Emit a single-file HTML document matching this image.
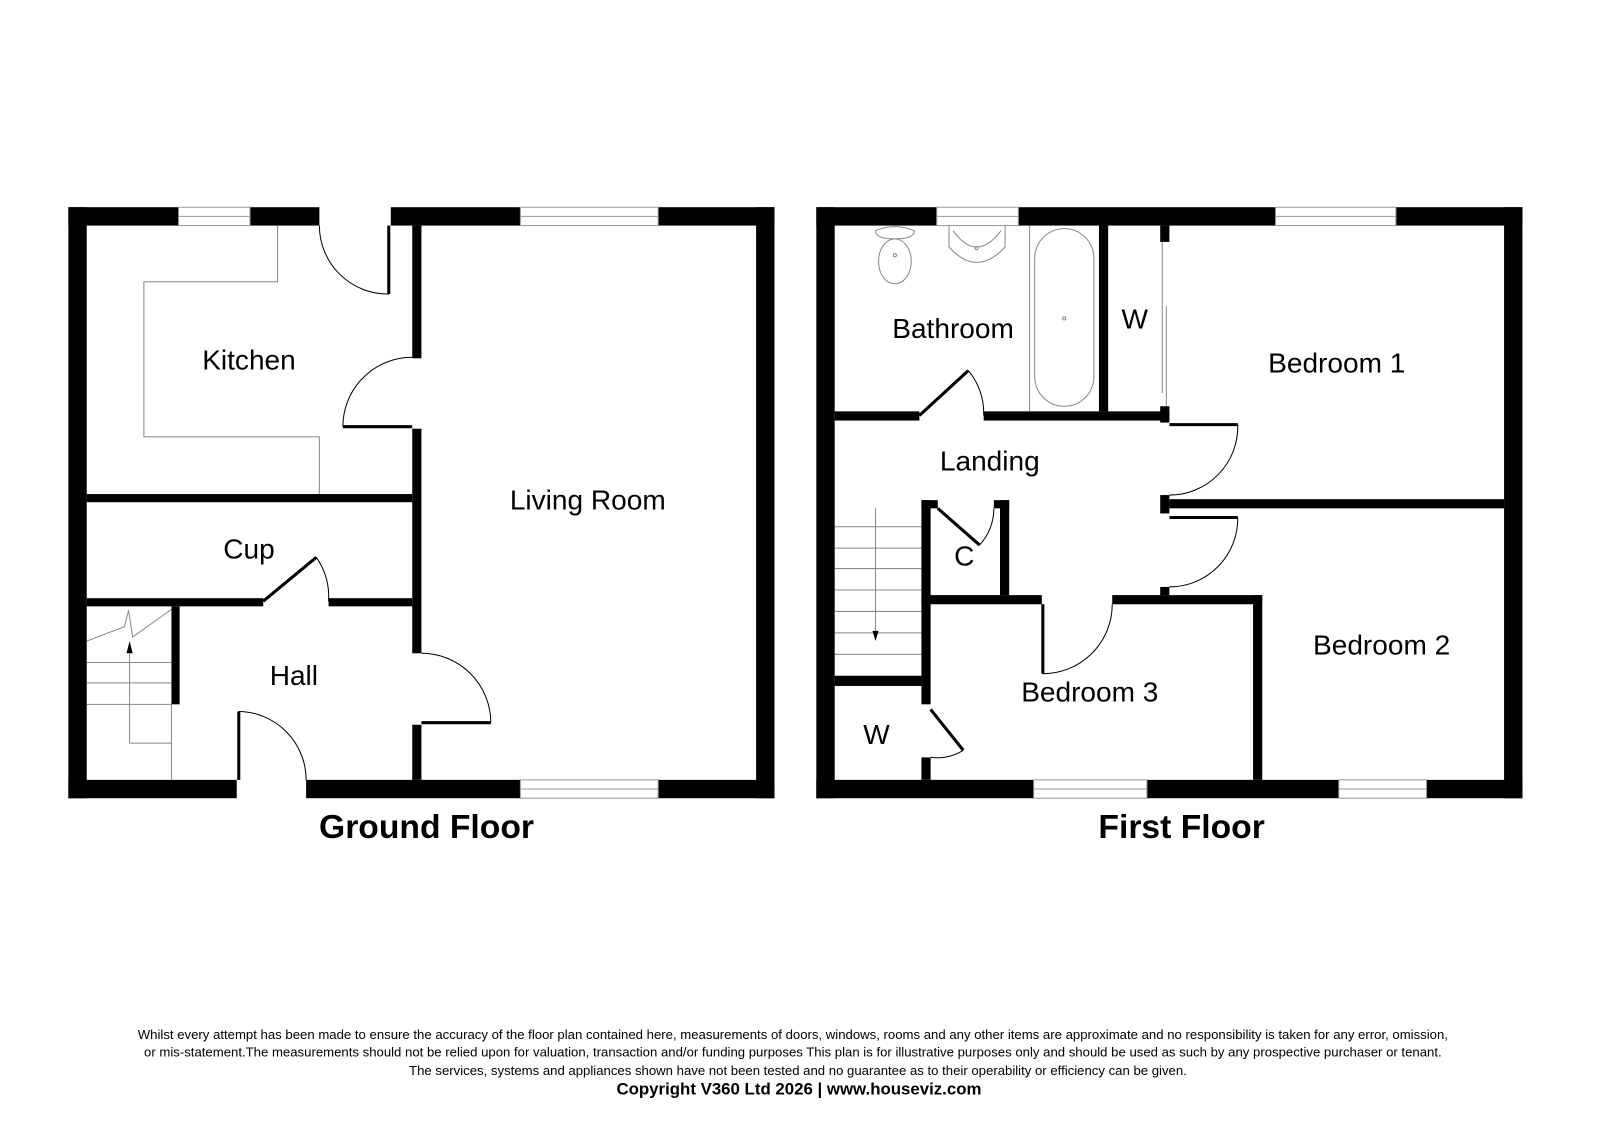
<!DOCTYPE html>
<html><head><meta charset="utf-8"><style>
html,body{margin:0;padding:0;background:#fff}
svg{display:block}
text{font-family:"Liberation Sans",Arial,sans-serif}
</style></head><body>
<svg width="1600" height="1131" viewBox="0 0 1568 1108" preserveAspectRatio="none" xmlns="http://www.w3.org/2000/svg">
<g fill="#000">
<rect x="67" y="203" width="108" height="18"/>
<rect x="245" y="203" width="68" height="18"/>
<rect x="383" y="203" width="127" height="18"/>
<rect x="645" y="203" width="114" height="18"/>
<rect x="67" y="203" width="18" height="579"/>
<rect x="741" y="203" width="18" height="579"/>
<rect x="67" y="764" width="165" height="18"/>
<rect x="300" y="764" width="210" height="18"/>
<rect x="645" y="764" width="114" height="18"/>
<rect x="404" y="221" width="9" height="130"/>
<rect x="404" y="420" width="9" height="220"/>
<rect x="404" y="710" width="9" height="54"/>
<rect x="85" y="484" width="319" height="8"/>
<rect x="85" y="586" width="173" height="8"/>
<rect x="322" y="586" width="82" height="8"/>
<rect x="168" y="594" width="8" height="96"/>
<rect x="800" y="203" width="118" height="18"/>
<rect x="998" y="203" width="252" height="18"/>
<rect x="1368" y="203" width="124" height="18"/>
<rect x="800" y="203" width="18" height="579"/>
<rect x="1474" y="203" width="18" height="579"/>
<rect x="800" y="764" width="213" height="18"/>
<rect x="1124" y="764" width="188" height="18"/>
<rect x="1398" y="764" width="94" height="18"/>
<rect x="818" y="403" width="83" height="9"/>
<rect x="964" y="403" width="182" height="9"/>
<rect x="1077" y="221" width="9" height="182"/>
<rect x="1137" y="221" width="9" height="16"/>
<rect x="1137" y="398" width="9" height="16"/>
<rect x="1137" y="485" width="9" height="18"/>
<rect x="1146" y="489" width="328" height="9"/>
<rect x="1137" y="575" width="9" height="8"/>
<rect x="903" y="583" width="118" height="9"/>
<rect x="1090" y="583" width="147" height="9"/>
<rect x="1228" y="583" width="9" height="181"/>
<rect x="903" y="490" width="9" height="200"/>
<rect x="903" y="742" width="9" height="22"/>
<rect x="980" y="490" width="9" height="93"/>
<rect x="903" y="490" width="16" height="8"/>
<rect x="974" y="490" width="15" height="8"/>
<rect x="818" y="662" width="85" height="10"/>
</g>
<g fill="#fff" stroke="#999" stroke-width="1">
<rect x="175" y="203" width="70" height="18"/><line x1="175" y1="212" x2="245" y2="212"/>
<rect x="510" y="203" width="135" height="18"/><line x1="510" y1="212" x2="645" y2="212"/>
<rect x="510" y="764" width="135" height="18"/><line x1="510" y1="773" x2="645" y2="773"/>
<rect x="918" y="203" width="80" height="18"/><line x1="918" y1="212" x2="998" y2="212"/>
<rect x="1250" y="203" width="118" height="18"/><line x1="1250" y1="212" x2="1368" y2="212"/>
<rect x="1013" y="764" width="111" height="18"/><line x1="1013" y1="773" x2="1124" y2="773"/>
<rect x="1312" y="764" width="86" height="18"/><line x1="1312" y1="773" x2="1398" y2="773"/>
</g>
<g stroke="#000" stroke-width="3" fill="none">
<line x1="381" y1="221" x2="381" y2="288"/>
<line x1="336" y1="418" x2="404" y2="418"/>
<line x1="413" y1="708" x2="481" y2="708"/>
<line x1="258" y1="589" x2="310" y2="546"/>
<line x1="234" y1="764" x2="234" y2="697"/>
<line x1="901" y1="407" x2="949" y2="363"/>
<line x1="1146" y1="416" x2="1213" y2="416"/>
<line x1="1146" y1="507" x2="1213" y2="507"/>
<line x1="1022" y1="592" x2="1022" y2="660"/>
<line x1="919" y1="498" x2="960" y2="534"/>
<line x1="912" y1="695" x2="944" y2="735"/>
</g>
<g stroke="#000" stroke-width="1" fill="none">
<path d="M313 221 A67 67 0 0 0 381 288"/>
<path d="M336 418 A68 68 0 0 1 404 350"/>
<path d="M413 640 A68 68 0 0 1 481 708"/>
<path d="M310 546 A68 68 0 0 1 322 589"/>
<path d="M234 697 A67 67 0 0 1 300 764"/>
<path d="M949 363 A65 65 0 0 1 964 407"/>
<path d="M1213 416 A67 67 0 0 1 1146 485"/>
<path d="M1213 507 A67 67 0 0 1 1146 575"/>
<path d="M1090 592 A68 68 0 0 1 1022 660"/>
<path d="M960 534 A55 55 0 0 0 974 498"/>
<path d="M944 735 A50 50 0 0 1 912 742"/>
</g>
<g stroke="#888" stroke-width="1" fill="none">
<polyline points="272,221 272,276 141,276 141,428 313,428 313,484"/>
<line x1="85" y1="649" x2="168" y2="649"/>
<line x1="85" y1="669" x2="168" y2="669"/>
<line x1="85" y1="690" x2="168" y2="690"/>
<polyline points="85,628 122,614 126,598 130,624 168,597"/>
<line x1="127" y1="728" x2="168" y2="728"/>
<line x1="127" y1="728" x2="127" y2="640"/>
<line x1="168" y1="690" x2="168" y2="764"/>
<line x1="1139" y1="237" x2="1139" y2="385"/>
<line x1="1143" y1="300" x2="1143" y2="398"/>
<line x1="1009" y1="221" x2="1009" y2="403"/>
<line x1="818" y1="516" x2="903" y2="516"/>
<line x1="818" y1="537" x2="903" y2="537"/>
<line x1="818" y1="557" x2="903" y2="557"/>
<line x1="818" y1="578" x2="903" y2="578"/>
<line x1="818" y1="599" x2="903" y2="599"/>
<line x1="818" y1="620" x2="903" y2="620"/>
<line x1="818" y1="641" x2="903" y2="641"/>
<line x1="858" y1="498" x2="858" y2="620"/>
<rect x="1014" y="224" width="58" height="174" rx="29"/>
<ellipse cx="877" cy="256" rx="16" ry="22"/>
<path d="M858 226 Q877 218 896 226 Q896 234 877 234 Q858 234 858 226Z"/>
<path d="M930 221 L930 242 Q957 272 985 242 L985 221"/>
<path d="M934 226 Q957 258 981 226"/>
<circle cx="957" cy="243" r="1.5"/><circle cx="877" cy="250" r="1.5"/><circle cx="1043" cy="312" r="1.5"/>
</g>
<path d="M127 628 L124 640 L130 640Z" fill="#000"/>
<path d="M858 628 L855 618 L861 618Z" fill="#000"/>
<g font-size="27.5" fill="#000" text-anchor="middle">
<text x="244" y="362">Kitchen</text>
<text x="576" y="499">Living Room</text>
<text x="244" y="547">Cup</text>
<text x="288" y="671">Hall</text>
<text x="934" y="331">Bathroom</text>
<text x="1112" y="322">W</text>
<text x="1310" y="365">Bedroom 1</text>
<text x="970" y="461">Landing</text>
<text x="945" y="554">C</text>
<text x="1354" y="641">Bedroom 2</text>
<text x="1068" y="687">Bedroom 3</text>
<text x="859" y="729">W</text>
</g>
<g font-size="33" font-weight="bold" text-anchor="middle">
<text x="418" y="821">Ground Floor</text>
<text x="1158" y="821">First Floor</text>
</g>
<g font-size="12.9" text-anchor="middle">
<text x="777" y="1018">Whilst every attempt has been made to ensure the accuracy of the floor plan contained here, measurements of doors, windows, rooms and any other items are approximate and no responsibility is taken for any error, omission,</text>
<text x="777" y="1035">or mis-statement.The measurements should not be relied upon for valuation, transaction and/or funding purposes This plan is for illustrative purposes only and should be used as such by any prospective purchaser or tenant.</text>
<text x="782" y="1053">The services, systems and appliances shown have not been tested and no guarantee as to their operability or efficiency can be given.</text>
</g>
<text x="783" y="1072" font-size="16.5" font-weight="bold" text-anchor="middle">Copyright V360 Ltd 2026 | www.houseviz.com</text>
</svg>
</body></html>
